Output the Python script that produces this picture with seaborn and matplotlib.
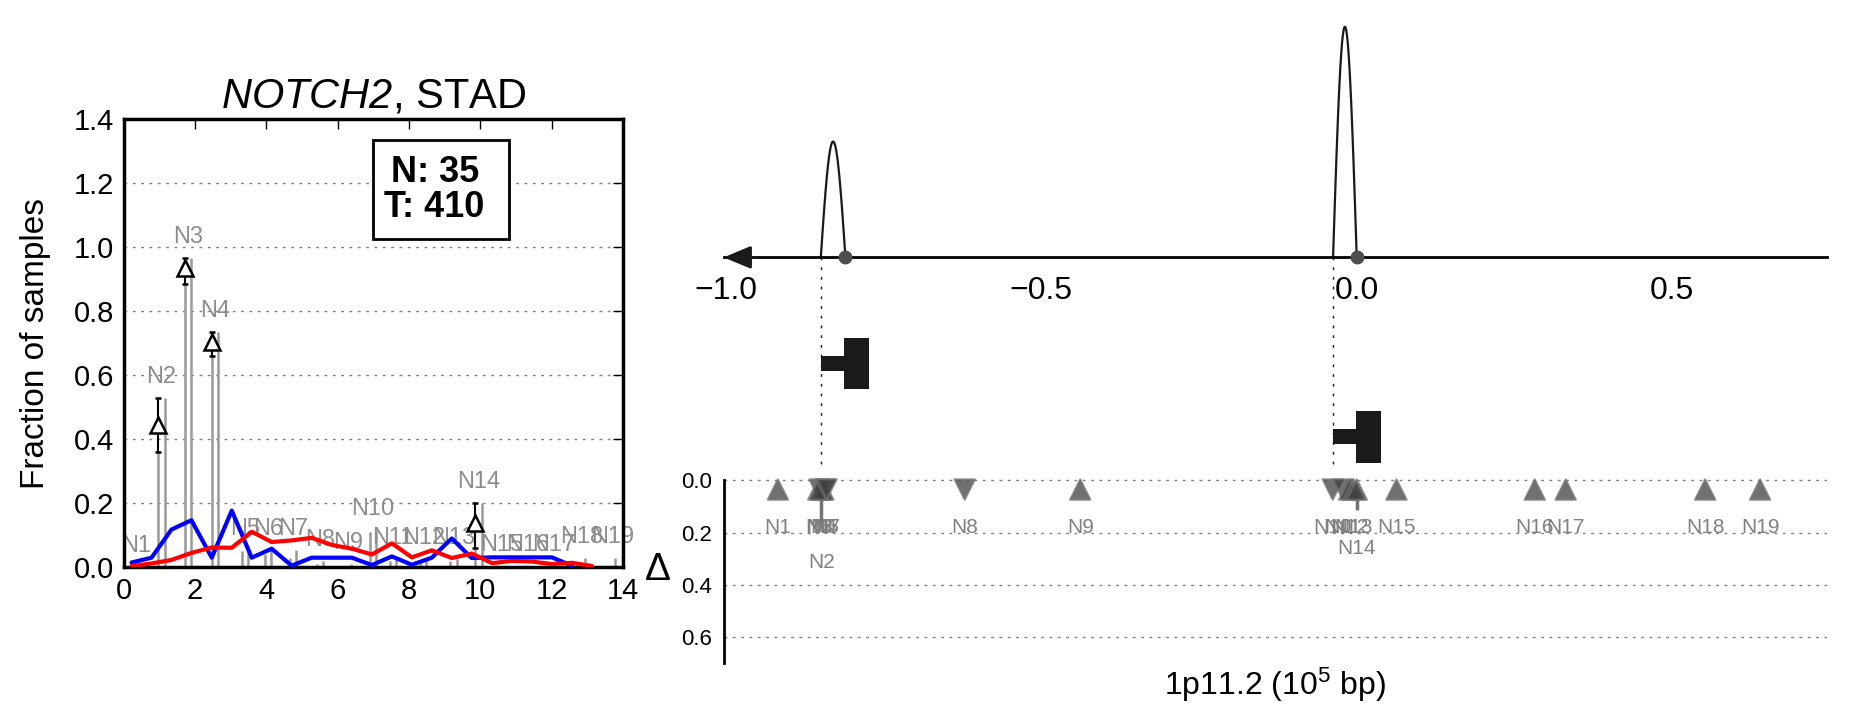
import numpy as np
import pandas as pd
import matplotlib
matplotlib.use("Agg")
import matplotlib.pyplot as plt
from matplotlib.patches import Rectangle
from matplotlib.ticker import FormatStrFormatter, FuncFormatter
import seaborn as sns

# ---------------- left panel data ----------------
bin_x = [0.22, 0.78, 1.34, 1.90, 2.47, 3.03, 3.59, 4.15, 4.71, 5.27, 5.83, 6.40,
         6.96, 7.52, 8.08, 8.64, 9.20, 9.76, 10.33, 10.89, 11.45, 12.01, 12.57, 13.13]
blue_frac = [0.015, 0.030, 0.118, 0.147, 0.030, 0.177, 0.030, 0.058, 0.005, 0.030, 0.030, 0.030,
             0.007, 0.034, 0.008, 0.030, 0.090, 0.029, 0.031, 0.031, 0.031, 0.031, 0.005]
red_frac = [0.004, 0.012, 0.023, 0.045, 0.062, 0.061, 0.111, 0.079, 0.084, 0.092, 0.070, 0.058,
            0.040, 0.075, 0.031, 0.053, 0.029, 0.043, 0.013, 0.020, 0.018, 0.010, 0.014, 0.004]

nuc_names = ['N1', 'N2', 'N3', 'N4', 'N5', 'N6', 'N7', 'N8', 'N9', 'N10',
             'N11', 'N12', 'N13', 'N14', 'N15', 'N16', 'N17', 'N18', 'N19']
nuc_x = [0.35, 1.06, 1.81, 2.55, 3.40, 4.05, 4.75, 5.50, 6.30, 6.98,
         7.55, 8.40, 9.25, 9.95, 10.60, 11.33, 12.07, 12.85, 13.70]
frac_normal = [0.0, 0.36, 0.885, 0.66, 0.05, 0.04, 0.03, 0.01, 0.005, 0.11,
               0.02, 0.02, 0.02, 0.06, 0.0, 0.0, 0.0, 0.005, 0.005]
frac_tumor = [0.0, 0.53, 0.966, 0.736, 0.055, 0.055, 0.055, 0.02, 0.01, 0.117,
              0.025, 0.025, 0.025, 0.20, 0.005, 0.005, 0.005, 0.03, 0.03]
delta_names = ['N2', 'N3', 'N4', 'N14']
delta_val = [0.445, 0.934, 0.705, 0.1375]

n_normal = 35
n_tumor = 410
gene_name = 'NOTCH2'
cancer_name = 'STAD'

# ---------------- right panel data ----------------
region_label = '1p11.2'
axis_ticks = [-1.0, -0.5, 0.0, 0.5]
site_start = [-0.849, -0.0375]
site_tss = [-0.810, 0.0]
arc_height = [0.443, 0.882]
glyph_mid = [-0.812, -0.001]
glyph_end = [-0.772, 0.039]
glyph_row = [-0.447, -0.167]

r_names = nuc_names
r_pos = [-0.917, -0.848, -0.851, -0.845, -0.842, -0.853, -0.840, -0.621, -0.438, -0.038,
         -0.022, -0.012, -0.005, 0.0, 0.063, 0.282, 0.331, 0.552, 0.639]
r_dir = ['up', 'up', 'down', 'up', 'down', 'up', 'down', 'down', 'up', 'down',
         'down', 'up', 'up', 'up', 'up', 'up', 'up', 'up', 'up']
r_delta = [0.035, 0.035, 0.035, 0.035, 0.035, 0.035, 0.035, 0.035, 0.035, 0.035,
           0.035, 0.035, 0.035, 0.035, 0.035, 0.035, 0.035, 0.035, 0.035]
r_err = [0.0, 0.135, 0.0, 0.0, 0.0, 0.0, 0.0, 0.0, 0.0, 0.0,
         0.0, 0.0, 0.0, 0.08, 0.0, 0.0, 0.0, 0.0, 0.0]

# ---------------- style ----------------
sns.set_theme(style='white')
plt.rcParams.update({
    'font.family': ['Liberation Sans', 'DejaVu Sans'],
    'mathtext.fontset': 'custom',
    'mathtext.rm': 'Liberation Sans',
    'mathtext.it': 'Liberation Sans:italic',
    'mathtext.sf': 'Liberation Sans:italic',
    'mathtext.bf': 'Liberation Sans:bold',
    'axes.edgecolor': 'black',
    'axes.labelcolor': 'black',
    'xtick.color': 'black',
    'ytick.color': 'black',
    'text.color': 'black',
    'axes.unicode_minus': True,
})

W, H = 1851, 718
fig = plt.figure(figsize=(W / 100, H / 100), dpi=100)
ax1 = fig.add_axes([123.7 / W, (H - 567.3) / H, 499.2 / W, 448.3 / H])
ax2 = fig.add_axes([723.6 / W, (H - 663.4) / H, (1827 - 723.6) / W, 663.4 / H])

# ================= left panel =================
off = 0.085
xl = [c - off for c in nuc_x]
xr = [c + off for c in nuc_x]
ax1.vlines(xl, 0, frac_normal, colors='0.6', lw=1.8, zorder=1)
ax1.vlines(xr, 0, frac_tumor, colors='0.6', lw=1.8, zorder=1)
for name, c, hn, ht in zip(nuc_names, nuc_x, frac_normal, frac_tumor):
    ax1.text(c, max(hn, ht) + 0.065, name, ha='center', va='center',
             color='0.55', fontsize=17, zorder=2)

sns.lineplot(x=bin_x[:len(blue_frac)], y=blue_frac, color='#0000ff', lw=3, ax=ax1, zorder=3)
sns.lineplot(x=bin_x, y=red_frac, color='#ff0000', lw=3, ax=ax1, zorder=4)

idx = [nuc_names.index(n) for n in delta_names]
ex = [xl[i] for i in idx]
lo = [d - frac_normal[i] for d, i in zip(delta_val, idx)]
hi = [frac_tumor[i] - d for d, i in zip(delta_val, idx)]
ax1.errorbar(ex, delta_val, yerr=[lo, hi], fmt='^', ms=12, mfc='white', mec='black',
             mew=1.8, ecolor='black', elinewidth=1.5, capsize=2.5, capthick=1.5, zorder=5)

# sample-count box (annotation)
ax1.add_patch(Rectangle((6.99, 1.024), 3.81, 0.31, fc='white', ec='black', lw=2, zorder=6))
ax1.text(8.72, 1.179, f'N: {n_normal}\nT: {n_tumor}', ha='center', va='center',
         multialignment='center', fontsize=26, fontweight='bold', linespacing=1.0, zorder=7)

ax1.set_xlim(0, 14)
ax1.set_ylim(0, 1.4)
ax1.set_xticks(range(0, 15, 2))
ax1.set_yticks(np.arange(0, 1.41, 0.2))
ax1.yaxis.set_major_formatter(FormatStrFormatter('%.1f'))
ax1.tick_params(direction='in', length=7, width=1, top=True, right=True,
                labelsize=21, pad=7)
ax1.grid(True, axis='y', ls=(0, (2, 4)), color='0.5', lw=1)
ax1.grid(False, axis='x')
for s in ax1.spines.values():
    s.set_linewidth(2.5)
    s.set_visible(True)
ax1.set_xlabel('')
ax1.set_ylabel('Fraction of samples', fontsize=24, va='center')
ax1.yaxis.set_label_coords(-0.177, 0.5)
ax1.set_title(f'$\\mathsf{{{gene_name}}}$, {cancer_name}', fontsize=30, pad=8)

# ================= right panel =================
baseline = -0.853

df = pd.DataFrame({'pos': r_pos, 'delta': r_delta, 'dir': r_dir})
sns.scatterplot(data=df, x='pos', y='delta', style='dir',
                markers={'up': '^', 'down': 'v'}, s=215, color='0.25',
                edgecolor='0.45', linewidth=1.5, alpha=0.75, legend=False,
                ax=ax2, zorder=4)
for p, d, e in zip(r_pos, r_delta, r_err):
    if e > 0:
        ax2.vlines(p, d, d + e, colors='0.45', lw=2.5, zorder=3)
for name, p, d, e in zip(r_names, r_pos, r_delta, r_err):
    ax2.text(p, d + e + 0.145, name, ha='center', va='center', color='0.5', fontsize=15)

for s0, e0, h0 in zip(site_start, site_tss, arc_height):
    t = np.linspace(0, 1, 120)
    ax2.plot(s0 + (e0 - s0) * t, baseline - h0 * np.sin(np.pi * t), color='k', lw=1.6)
ax2.plot(site_tss, [baseline for _ in site_tss], 'o', color='0.3', ms=9, zorder=5,
         clip_on=False)
ax2.vlines(site_start, baseline, -0.04, colors='k', linestyles=(0, (2, 5)), lw=1)

stem_h, head_h = 0.028, 0.099
for s0, m0, e0, r0 in zip(site_start, glyph_mid, glyph_end, glyph_row):
    ax2.add_patch(Rectangle((s0, r0 - stem_h), m0 - s0, 2 * stem_h, color='k', lw=0))
    ax2.add_patch(Rectangle((m0, r0 - head_h), e0 - m0, 2 * head_h, color='k', lw=0))

ax2.set_xlim(-1.003, 0.745)
ax2.set_ylim(0.7, -1.8375)
ax2.annotate('', xy=(-1.003, baseline), xytext=(-0.95, baseline),
             arrowprops=dict(arrowstyle='-|>,head_length=0.6,head_width=0.25',
                             color='k', lw=2, mutation_scale=28, shrinkA=0, shrinkB=0))
ax2.spines['top'].set_visible(False)
ax2.spines['right'].set_visible(False)
ax2.spines['left'].set_bounds(0, 0.7)
ax2.spines['left'].set_linewidth(2)
ax2.spines['bottom'].set_position(('data', baseline))
ax2.spines['bottom'].set_linewidth(2)
ax2.set_xticks(axis_ticks)
ax2.xaxis.set_major_formatter(FuncFormatter(lambda v, _: f'{v:.1f}'.replace('-', '\u2212')))
ax2.set_yticks([0, 0.2, 0.4, 0.6])
ax2.yaxis.set_major_formatter(FormatStrFormatter('%.1f'))
ax2.tick_params(axis='x', direction='out', length=8.5, width=1, labelsize=23, pad=5)
ax2.tick_params(axis='y', direction='in', length=7, width=1, labelsize=16, pad=8)
ax2.grid(True, axis='y', ls=(0, (2, 4)), color='0.5', lw=1)
ax2.grid(False, axis='x')
ax2.set_xlabel(f'{region_label} (10$^{{\\mathregular{{5}}}}$ bp)', fontsize=23)
ax2.xaxis.set_label_coords(0.5, -0.004)
ax2.set_ylabel('Δ', rotation=0, fontsize=28, va='center', ha='center')
ax2.yaxis.set_label_coords(-0.06, 0.141)

fig.savefig('out.png', dpi=100)
